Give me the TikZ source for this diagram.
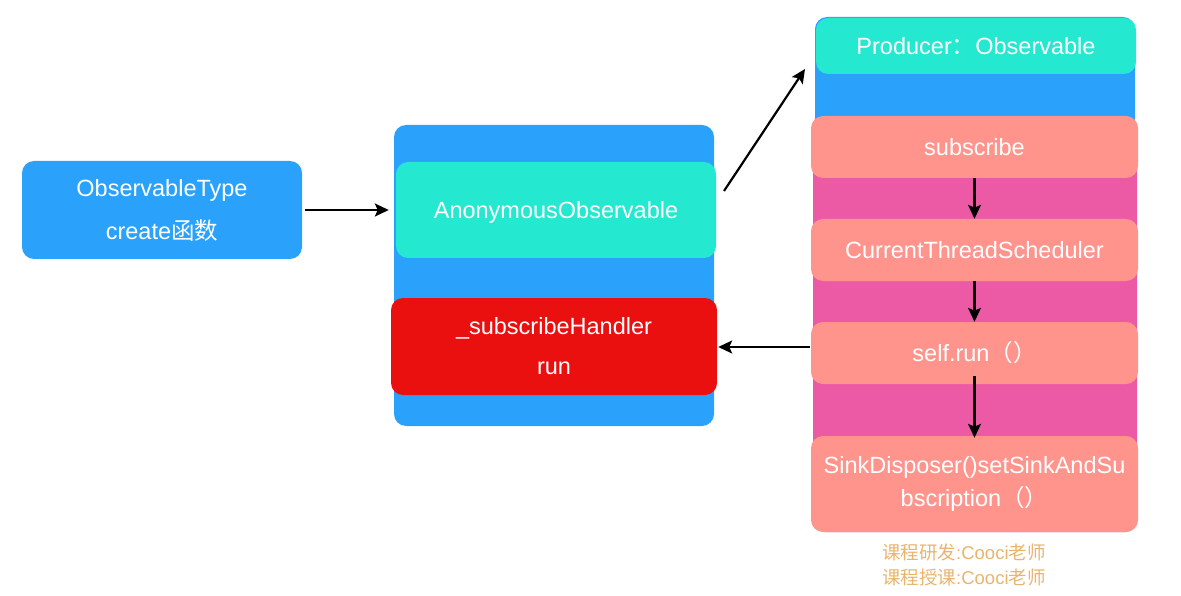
\documentclass[tikz,border=0pt]{standalone}
\usepackage{fontspec}
\setmainfont{Liberation Sans}
\newfontfamily\cjk{Noto Sans CJK SC}
\usetikzlibrary{arrows.meta}
\definecolor{cblue}{HTML}{2AA1FB}
\definecolor{ccyan}{HTML}{25E8D0}
\definecolor{cred}{HTML}{EB1010}
\definecolor{csalmon}{HTML}{FF948D}
\definecolor{cpink}{HTML}{EC5AA6}
\definecolor{cnote}{HTML}{E9B46E}
\tikzset{
  boxbase/.style={rounded corners=12pt, inner sep=0pt, text=white, align=center,
    font=\fontsize{23.5}{43}\selectfont},
  bluebox/.style={boxbase, fill=cblue},
  cyanbox/.style={boxbase, fill=ccyan},
  redbox/.style={boxbase, fill=cred},
  salmonbox/.style={boxbase, fill=csalmon},
  pinkbox/.style={boxbase, fill=cpink},
  conn/.style={line width=2.2pt, -{Stealth[length=14pt,width=13pt,inset=3pt]}},
  note/.style={text=cnote, font=\fontsize{18.5}{25}\selectfont, align=left, inner sep=0pt, anchor=north west}
}
\begin{document}
\begin{tikzpicture}[x=1pt,y=-1pt]
\useasboundingbox (0,0) rectangle (1181,596);
% left
\node[bluebox, minimum width=280pt, minimum height=98pt] (otype) at (162,210)
  {ObservableType\\create{\cjk 函数}};
% middle
\node[bluebox, minimum width=320pt, minimum height=301pt] (mid) at (554,275.5) {};
\node[cyanbox, minimum width=320pt, minimum height=96pt, text depth=0pt] (anon) at (556,210) {AnonymousObservable};
\node[redbox, minimum width=326pt, minimum height=97pt, font=\fontsize{23.5}{40}\selectfont] (handler) at (554,346.5) {\_subscribeHandler\\run};
% right
\node[pinkbox, minimum width=324pt, minimum height=392pt] (rpink) at (975,336) {};
\node[bluebox, minimum width=320pt, minimum height=134pt] (rblue) at (975,84) {};
\node[cyanbox, minimum width=320pt, minimum height=56pt, text depth=0pt] (producer) at (976,46) {Producer{\cjk ：}Observable};
\node[salmonbox, minimum width=327pt, minimum height=62pt, text depth=0pt] (subscribe) at (974.5,147) {subscribe};
\node[salmonbox, minimum width=327pt, minimum height=62pt, text depth=0pt] (cts) at (974.5,250) {CurrentThreadScheduler};
\node[salmonbox, minimum width=327pt, minimum height=62pt] (selfrun) at (974.5,353) {self.run{\cjk （）}};
\node[salmonbox, minimum width=327pt, minimum height=96pt, font=\fontsize{23.5}{33}\selectfont] (sink) at (974.5,484) {SinkDisposer()setSinkAndSu\\bscription{\cjk （）}};
% connectors
\draw[conn] ([xshift=3pt]otype.east) -- ([xshift=-7pt]anon.west |- otype.east);
\coordinate (dstart) at (724,191);
\coordinate (dend) at (805,69);
\draw[conn] (dstart) -- (dend);
\draw[conn] ([xshift=-3pt]rpink.west |- 0,347) -- ([xshift=1pt]handler.east |- 0,347);
\draw[conn] (subscribe.south) -- (cts.north);
\draw[conn] (cts.south) -- (selfrun.north);
\draw[conn] ([yshift=8pt]selfrun.south) -- ([yshift=-2pt]sink.north);
% notes
\node[note] (n1) at (882,544) {{\cjk 课程研发}:Cooci{\cjk 老师}\\{\cjk 课程授课}:Cooci{\cjk 老师}};
\end{tikzpicture}
\end{document}
